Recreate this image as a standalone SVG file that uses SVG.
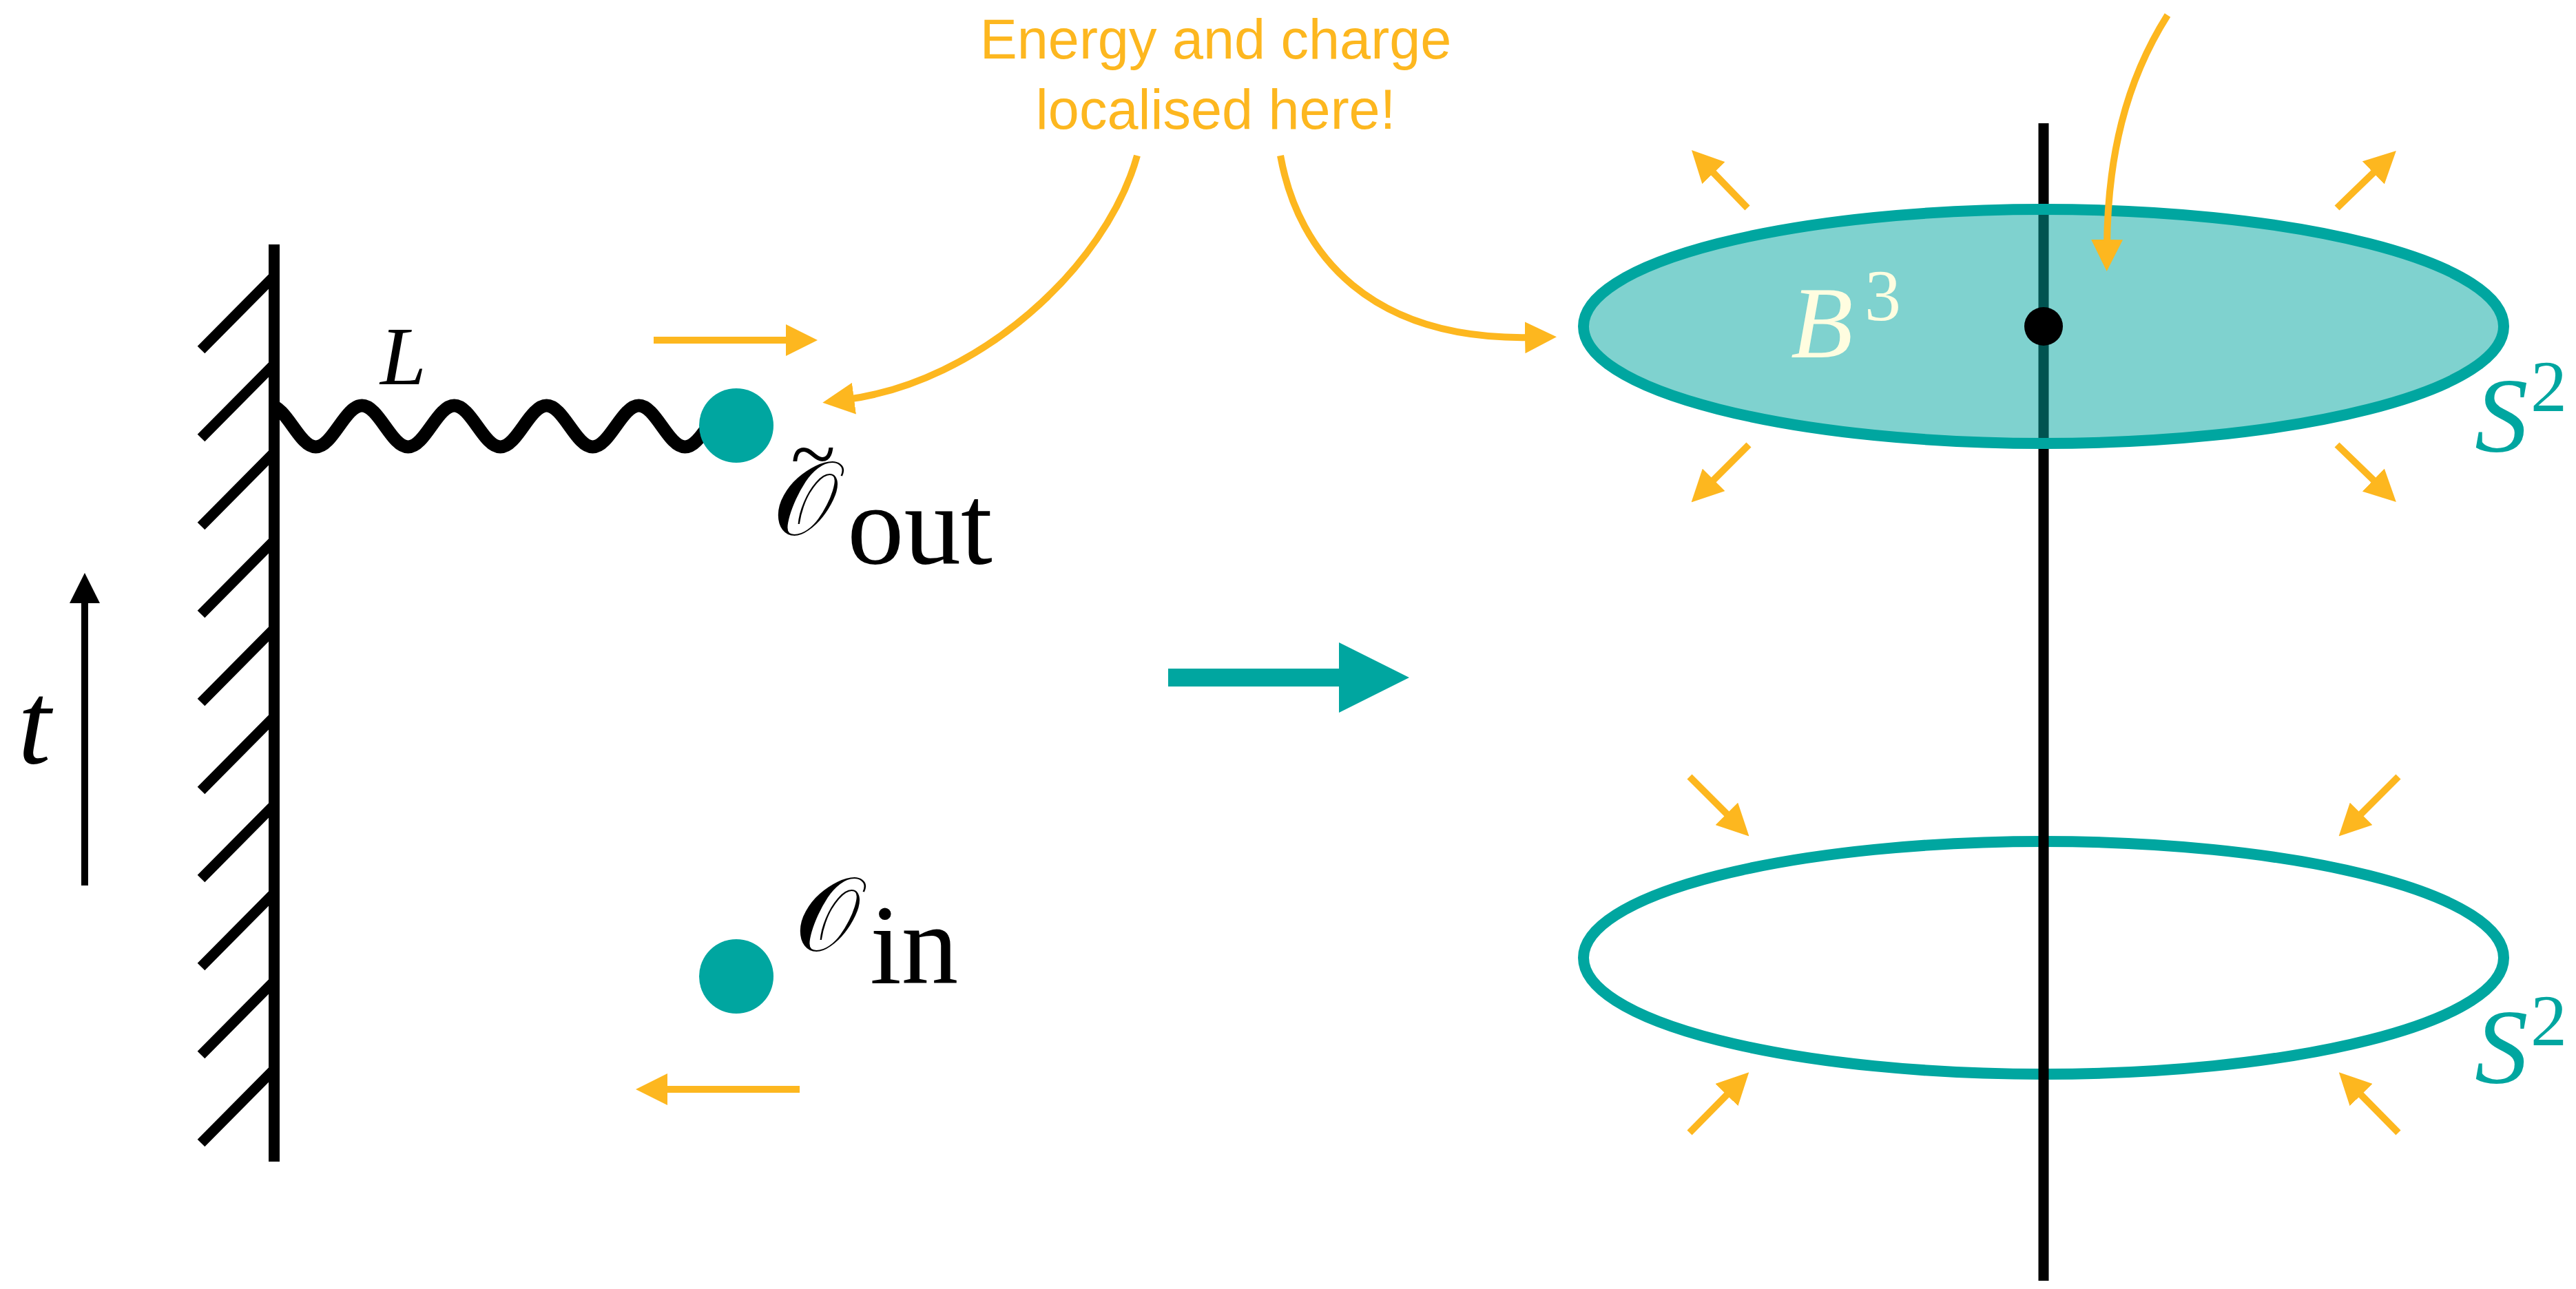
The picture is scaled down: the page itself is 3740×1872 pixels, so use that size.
<svg xmlns="http://www.w3.org/2000/svg" width="3740" height="1872" viewBox="0 0 3740 1872">
<style>
.orl{stroke:#FDB71F;fill:none;stroke-width:10;marker-end:url(#ah)}
.blk{stroke:#000;fill:none}
.math{font-family:"Liberation Serif","Times New Roman",serif}
.cal{font-family:"DejaVu Serif","DejaVu Sans","Noto Sans",serif}
.it{font-style:italic}
.ann{font-family:"Liberation Sans",Arial,sans-serif;font-size:81px;fill:#FDB71F}
.teal{fill:#00A6A0}
</style>
<defs>
<marker id="ah" markerUnits="userSpaceOnUse" viewBox="0 0 46 46" markerWidth="46" markerHeight="46" refX="10" refY="23" orient="auto"><path d="M0,0 L46,23 L0,46 z" fill="#FDB71F"/></marker>
<marker id="ahb" markerUnits="userSpaceOnUse" viewBox="0 0 64 64" markerWidth="64" markerHeight="64" refX="12" refY="32" orient="auto"><path d="M0,0 L64,32 L0,64 z" fill="#FDB71F"/></marker>
<marker id="ahk" markerUnits="userSpaceOnUse" viewBox="0 0 44 44" markerWidth="44" markerHeight="44" refX="10" refY="22" orient="auto"><path d="M0,0 L44,22 L0,44 z" fill="#000"/></marker>
</defs>
<rect width="3740" height="1872" fill="#fff"/>

<g id="time-axis">
<line x1="123" y1="1286" x2="123" y2="866" class="blk" stroke-width="10" marker-end="url(#ahk)"/>
<text class="math it" x="26" y="1108" font-size="172">t</text>
</g>

<g id="wall">
<line x1="398" y1="355" x2="398" y2="1687" class="blk" stroke-width="16"/>
<path class="blk" stroke-width="15" d="M398,401 l-106,107 M398,529 l-106,107 M398,657 l-106,107 M398,785 l-106,107 M398,913 l-106,107 M398,1041 l-106,107 M398,1169 l-106,107 M398,1297 l-106,107 M398,1425 l-106,107 M398,1553 l-106,107"/>
</g>

<g id="string">
<path class="blk" stroke-width="19" d="M391.5,589 c24.35,0 42.65,60 67,60 s42.65,-60 67,-60 s42.65,60 67,60 s42.65,-60 67,-60 s42.65,60 67,60 s42.65,-60 67,-60 s42.65,60 67,60 s42.65,-60 67,-60 s42.65,60 67,60 s42.65,-60 67,-60"/>
<text class="math it" x="552" y="558" font-size="120">L</text>
</g>

<g id="O-out">
<circle cx="1069" cy="618" r="54" class="teal"/>
<text class="math" x="1148" y="700" font-size="120">~</text>
<text class="cal" x="1122" y="776" font-size="150">𝒪</text>
<text class="math" x="1230" y="818" font-size="165">out</text>
</g>

<g id="O-in">
<circle cx="1069" cy="1418" r="54" class="teal"/>
<text class="cal" x="1154" y="1380" font-size="150">𝒪</text>
<text class="math" x="1263" y="1428" font-size="165">in</text>
</g>

<g id="annotation">
<text class="ann" text-anchor="middle"><tspan x="1765" y="85">Energy and charge</tspan><tspan x="1765" y="187">localised here!</tspan></text>
</g>

<g id="map-arrow">
<path class="teal" d="M1696,971 H1944 V933 L2046,984 L1944,1035 V997 H1696 z"/>
</g>

<g id="bottom-sphere">
<ellipse cx="2967" cy="1391" rx="668" ry="169" fill="none" stroke="#00A6A0" stroke-width="16"/>
<text class="math it" x="3593" y="1572" font-size="155" fill="#00A6A0">S</text>
<text class="math" x="3674" y="1518" font-size="106" fill="#00A6A0">2</text>
</g>

<g id="axis">
<line x1="2967" y1="179" x2="2967" y2="1860" class="blk" stroke-width="15"/>
</g>

<g id="top-ball">
<ellipse cx="2967" cy="474" rx="668" ry="170" fill="#00A6A0" fill-opacity="0.5" stroke="#00A6A0" stroke-width="16"/>
<circle cx="2967" cy="474" r="28" fill="#000"/>
<text class="math it" x="2600" y="519" font-size="148" fill="#FFFDE0">B</text>
<text class="math" x="2707" y="465" font-size="106" fill="#FFFDE0">3</text>
<text class="math it" x="3593" y="655" font-size="155" fill="#00A6A0">S</text>
<text class="math" x="3674" y="597" font-size="106" fill="#00A6A0">2</text>
</g>

<g id="connectors">
<line class="orl" x1="949" y1="494" x2="1151" y2="494"/>
<line class="orl" x1="1161" y1="1582" x2="959" y2="1582"/>
<path class="orl" d="M1651,226 C1605,390 1420,555 1230,580"/>
<path class="orl" d="M1859,226 C1885,370 1990,495 2224,490"/>
<path class="orl" stroke-width="12" marker-end="url(#ahb)" d="M3147,22 C3085,120 3060,230 3059,358"/>
<line class="orl" x1="2537" y1="302" x2="2481" y2="244"/>
<line class="orl" x1="3393" y1="302" x2="3453" y2="244"/>
<line class="orl" x1="2539" y1="646" x2="2481" y2="704"/>
<line class="orl" x1="3393" y1="646" x2="3453" y2="704"/>
<line class="orl" x1="2453" y1="1128" x2="2514" y2="1189"/>
<line class="orl" x1="3482" y1="1128" x2="3421" y2="1189"/>
<line class="orl" x1="2453" y1="1645" x2="2514" y2="1583"/>
<line class="orl" x1="3482" y1="1645" x2="3421" y2="1583"/>
</g>
</svg>
